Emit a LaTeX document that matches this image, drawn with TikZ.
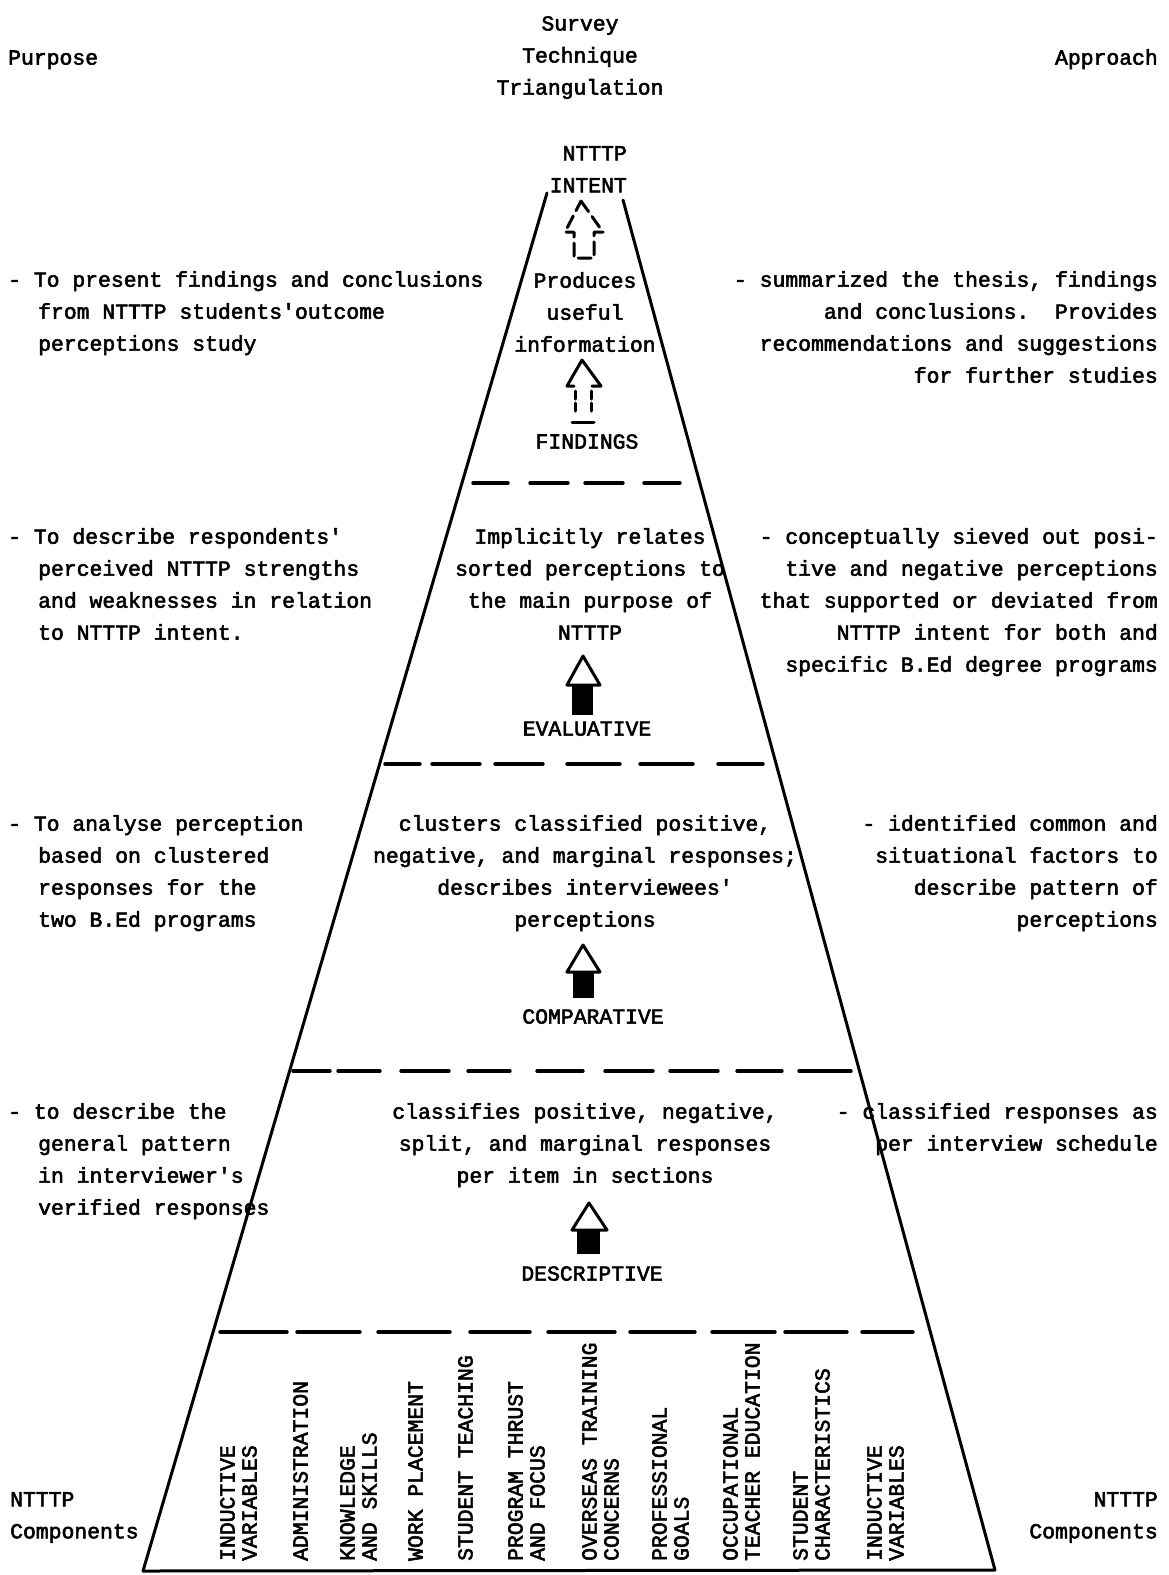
\documentclass[tikz,border=0pt]{standalone}
\usepackage{fontspec}
\newfontfamily\tw{Liberation Mono}[FakeBold=2.5]
\newcommand\apo{\textquotesingle}
\tikzset{
  txt/.style={inner sep=0pt, font=\tw\fontsize{21.4}{32}\selectfont, execute at begin node=\strut},
  lft/.style={txt, anchor=north west, align=left},
  rgt/.style={txt, anchor=north east, align=right},
  ctr/.style={txt, anchor=north, align=center},
  comp/.style={inner sep=0pt, font=\tw\fontsize{21.4}{22}\selectfont, rotate=90, anchor=north west, align=left},
  edge/.style={line width=3pt, line join=round, line cap=round},
  sep/.style={line width=3.4pt, line cap=round},
  arr/.style={line width=3pt, line join=round, line cap=round},
}
\begin{document}
\begin{tikzpicture}[x=1pt,y=-1pt]
\useasboundingbox[fill=white] (0,0) rectangle (1168,1575);

% header
\node[lft] (purpose) at (8,42) {Purpose};
\node[ctr] (survey) at (580,16) {Survey\\Technique\\Triangulation};
\node[rgt] (approach) at (1158,42) {Approach};

% pyramid outline
\coordinate (lt) at (547,193);
\coordinate (lb) at (143,1571);
\coordinate (rb) at (995,1570);
\coordinate (rt) at (623,200);
\draw[edge] (lt) -- (lb) -- (rb) -- (rt);

% separators
\foreach \a/\b in {473/508,530/568,585/623,644/680}
  \draw[sep] (\a,483) -- (\b,483);
\foreach \a/\b in {385/420,432/480,495/543,567/620,640/693,718/763}
  \draw[sep] (\a,764) -- (\b,764);
\foreach \a/\b in {293/330,338/380,401/449,468/510,537/583,605/653,670/718,737/782,799/851}
  \draw[sep] (\a,1071) -- (\b,1071);
\foreach \a/\b in {220/287,297/360,378/450,470/530,548/615,630/695,712/775,785/847,862/913}
  \draw[sep] (\a,1332) -- (\b,1332);

% apex
\node[rgt] (intent) at (627,146) {NTTTP\\INTENT};

% arrow A (broken hollow)
\draw[arr, dash pattern=on 13pt off 6pt] (581,201) -- (603,232) -- (594,232) -- (594,258) -- (574,258) -- (574,232) -- (565,232) -- cycle;

\node[ctr] (produces) at (585,272) {Produces\\useful\\information};

% arrow B
\draw[arr] (574,386) -- (567,386) -- (582,360) -- (601,386) -- (592,386);
\draw[arr, dash pattern=on 8pt off 4pt] (575,391) -- (575,414) (591,391) -- (591,414);
\draw[arr] (572,422) -- (594,422);
\node[ctr] (findings) at (587,426) {FINDINGS};

\node[ctr] (implicit) at (590,528) {Implicitly relates\\sorted perceptions to\\the main purpose of\\NTTTP};
% arrow C
\draw[arr, fill=white] (583,656) -- (600,685) -- (567,685) -- cycle;
\fill (572,686) rectangle (593,715);
\node[ctr] (evaluative) at (587,713) {EVALUATIVE};

\node[ctr] (clusters) at (585,815) {clusters classified positive,\\negative, and marginal responses;\\describes interviewees\apo\\perceptions};
% arrow D
\draw[arr, fill=white] (583,945) -- (600,972) -- (567,972) -- cycle;
\fill (573,973) rectangle (594,998);
\node[ctr] (comparative) at (593,1001) {COMPARATIVE};

\node[ctr] (classifies) at (585,1103) {classifies positive, negative,\\split, and marginal responses\\per item in sections};
% arrow E
\draw[arr, fill=white] (589,1203) -- (607,1230) -- (572,1230) -- cycle;
\fill (577,1231) rectangle (600,1254);
\node[ctr] (descriptive) at (592,1258) {DESCRIPTIVE};

% left column
\node[lft] (p1) at (8,271) {- To present findings and conclusions\\\hspace*{30pt}from NTTTP students\apo outcome\\\hspace*{30pt}perceptions study};
\node[lft] (p2) at (8,528) {- To describe respondents\apo\\\hspace*{30pt}perceived NTTTP strengths\\\hspace*{30pt}and weaknesses in relation\\\hspace*{30pt}to NTTTP intent.};
\node[lft] (p3) at (8,815) {- To analyse perception\\\hspace*{30pt}based on clustered\\\hspace*{30pt}responses for the\\\hspace*{30pt}two B.Ed programs};
\node[lft] (p4) at (8,1103) {- to describe the\\\hspace*{30pt}general pattern\\\hspace*{30pt}in interviewer\apo s\\\hspace*{30pt}verified responses};

% right column
\node[rgt] (a1) at (1158,271) {- summarized the thesis, findings\\and conclusions.\ \ Provides\\recommendations and suggestions\\for further studies};
\node[rgt] (a2) at (1158,528) {- conceptually sieved out posi-\\tive and negative perceptions\\that supported or deviated from\\NTTTP intent for both and\\specific B.Ed degree programs};
\node[rgt] (a3) at (1158,815) {- identified common and\\situational factors to\\describe pattern of\\perceptions};
\node[rgt] (a4) at (1158,1103) {- classified responses as\\per interview schedule};

% components
\node[lft] (cl) at (10,1492) {NTTTP\\Components};
\node[rgt] (cr) at (1158,1492) {NTTTP\\Components};

\node[comp] (k1) at (220,1561) {INDUCTIVE\\VARIABLES};
\node[comp] (k2) at (293,1561) {ADMINISTRATION};
\node[comp] (k3) at (340,1561) {KNOWLEDGE\\AND SKILLS};
\node[comp] (k4) at (408,1561) {WORK PLACEMENT};
\node[comp] (k5) at (458,1561) {STUDENT TEACHING};
\node[comp] (k6) at (508,1561) {PROGRAM THRUST\\AND FOCUS};
\node[comp] (k7) at (582,1561) {OVERSEAS TRAINING\\CONCERNS};
\node[comp] (k8) at (652,1561) {PROFESSIONAL\\GOALS};
\node[comp] (k9) at (723,1561) {OCCUPATIONAL\\TEACHER EDUCATION};
\node[comp] (k10) at (793,1561) {STUDENT\\CHARACTERISTICS};
\node[comp] (k11) at (867,1561) {INDUCTIVE\\VARIABLES};
\end{tikzpicture}
\end{document}
